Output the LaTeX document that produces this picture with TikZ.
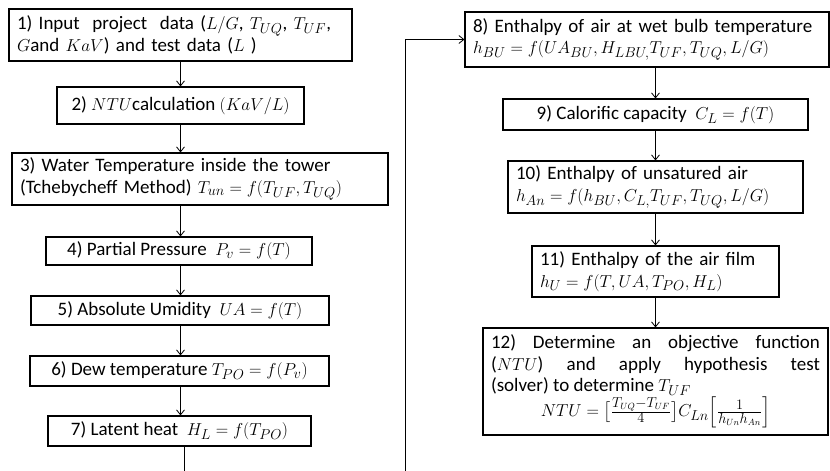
\documentclass[tikz,border=0pt]{standalone}
\usepackage{amsmath}
\usepackage{fontspec}
\setmainfont{Carlito}
\usetikzlibrary{arrows.meta}
\tikzset{
  box/.style={draw, line width=1.1pt, inner xsep=8pt, inner ysep=2pt, font=\fontsize{19}{21.5}\selectfont, align=center},
  boxl/.style={box, align=left},
  conn/.style={line width=0.8pt, -{Straight Barb[length=5pt,width=8pt]}},
  plain/.style={line width=0.8pt}
}
\begin{document}
\begin{tikzpicture}[x=1pt,y=-1pt]
\useasboundingbox (0,0) rectangle (830,471);
% left column
\node[boxl, text width=327pt, minimum height=52pt] (b1) at (180.5,35)
  {1) Input\ \ project\ \ data ($L/G$, $T_{UQ}$, $T_{UF}$,\\ $G$and $KaV$) and test data ($L$ )};
\node[box, minimum width=247pt, minimum height=37pt] (b2) at (180.5,105.5)
  {2) $\mathnormal{NTU}$calculation $(\mathnormal{KaV}/L)$};
\node[boxl, text width=360pt, minimum height=52pt] (b3) at (200,179)
  {3) Water Temperature inside the tower\\ (Tchebycheff Method) $T_{un}=f(T_{UF},T_{UQ})$};
\node[box, minimum width=266pt, minimum height=28pt] (b4) at (179,251)
  {4) Partial Pressure\ \ $P_v=f(T)$};
\node[box, minimum width=298pt, minimum height=29pt] (b5) at (180,310.5)
  {5) Absolute Umidity\ \ $\mathnormal{UA}=f(T)$};
\node[box, minimum width=299pt, minimum height=30pt] (b6) at (179.5,371)
  {6) Dew temperature $T_{PO}=f(P_v)$};
\node[box, minimum width=263pt, minimum height=30pt] (b7) at (179.5,431)
  {7) Latent heat\ \ $H_L=f(T_{PO})$};
% right column
\node[boxl, text width=348pt, minimum height=55pt] (b8) at (647,39.5)
  {8) Enthalpy of air at wet bulb temperature\\ $h_{BU}=f(\mathnormal{UA}_{BU},H_{LBU,}T_{UF},T_{UQ},L/G)$};
\node[box, minimum width=305pt, minimum height=31pt] (b9) at (655.5,114.5)
  {9) Calorific capacity\ \ $C_L=f(T)$};
\node[boxl, text width=279pt, minimum height=52pt] (b10) at (655.5,187)
  {10) Enthalpy of unsatured air\\ $h_{An}=f(h_{BU},C_{L,}T_{UF},T_{UQ},L/G)$};
\node[boxl, text width=231pt, minimum height=51pt] (b11) at (655.5,271.5)
  {11) Enthalpy of the air film\\ $h_U=f(T,\mathnormal{UA},T_{PO},H_L)$};
\node[box, align=justify, text width=329pt, minimum height=107pt] (b12) at (655.5,381.5)
  {12) Determine an objective function\linebreak ($\mathnormal{NTU}$) and apply hypothesis test\linebreak (solver) to determine $T_{UF}$\par
   \centerline{$\mathnormal{NTU}=\big[\tfrac{T_{UQ}-T_{UF}}{4}\big]C_{Ln}\Big[\tfrac{1}{h_{Un}h_{An}}\Big]$}};
% connectors left
\draw[conn] (b1.south) -- (b2.north);
\draw[conn] (b2.south) -- (b2.south |- b3.north);
\draw[conn] (b2.south |- b3.south) -- (b2.south |- b4.north);
\draw[conn] (b2.south |- b4.south) -- (b2.south |- b5.north);
\draw[conn] (b2.south |- b5.south) -- (b2.south |- b6.north);
\draw[conn] (b2.south |- b6.south) -- (b2.south |- b7.north);
\coordinate (lo1) at (184,471);
\draw[plain] (lo1 |- b7.south) -- (lo1);
% loop
\coordinate (lo2) at (405,471);
\draw[conn] (lo2) |- (b8.west);
% connectors right
\draw[conn] (b9.north |- b8.south) -- (b9.north);
\draw[conn] (b9.south) -- (b10.north);
\draw[conn] (b10.south) -- (b11.north);
\draw[conn] (b11.south) -- (b12.north);
\end{tikzpicture}
\end{document}
